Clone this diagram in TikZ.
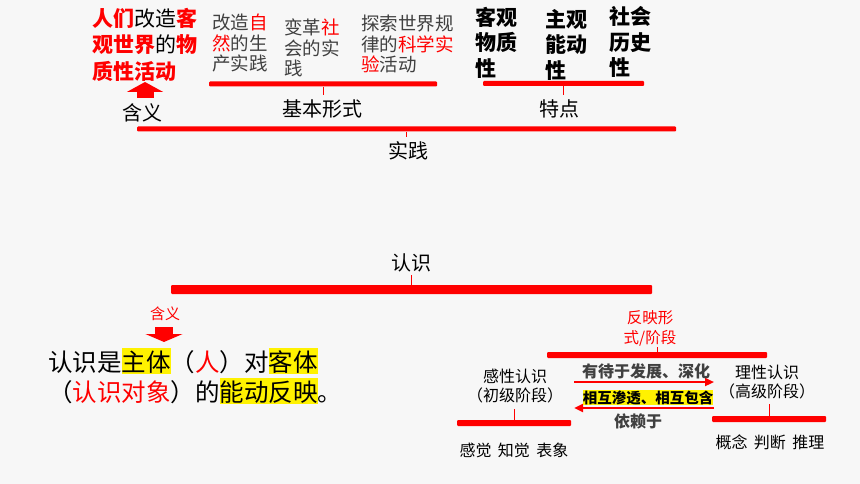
\documentclass[tikz,border=0pt]{standalone}
\usepackage{fontspec}
\setmainfont{Noto Sans CJK SC}
\usepackage{tikz}
\usetikzlibrary{arrows.meta}

\definecolor{bgcol}{RGB}{247,247,247}
\definecolor{txtgray}{RGB}{64,64,64}
\newcommand{\redb}[1]{\textcolor{red}{\bfseries #1}}
\newcommand{\yhl}[1]{{\setlength{\fboxsep}{0pt}\colorbox{yellow}{\rule[-0.12em]{0pt}{1.06em}#1}}}

\begin{document}
\begin{tikzpicture}[x=1pt, y=-1pt,
    bar/.style={fill=red, inner sep=0pt, rounded corners=1pt},
    tick/.style={red, line width=0.8pt},
    tag/.style={inner sep=5pt, font=\fontsize{20}{24}\selectfont},
    col/.style={anchor=west, align=left, inner sep=0pt, text=txtgray, font=\fontsize{18.5}{20.5}\selectfont},
    feat/.style={anchor=west, align=left, inner sep=0pt, font=\bfseries\fontsize{21}{25.5}\selectfont},
    stage/.style={align=center, inner sep=5pt, font=\fontsize{16}{19}\selectfont},
    arrowtxt/.style={inner sep=0pt, text=txtgray, font=\bfseries\fontsize{16}{19}\selectfont},
    flow/.style={red, line width=2.5pt, -{Triangle[length=9pt, width=8pt]}}]

            \fill[bgcol] (0,0) rectangle (860,484);
            \useasboundingbox (0,0) rectangle (860,484);

            % practice
            \node[anchor=west, align=left, inner sep=0pt, font=\fontsize{21}{26.5}\selectfont] (meaning) at (92,44.5) {\redb{人们}改造\redb{客}\\\redb{观世界}的\redb{物}\\\redb{质性活动}};
            \node[col] (nature) at (212,43.5) {改造\textcolor{red}{自}\\\textcolor{red}{然}的生\\产实践};
            \node[col] (society) at (284,48) {变革\textcolor{red}{社}\\会的实\\践};
            \node[col] (science) at (361,44) {探索世界规\\律的\textcolor{red}{科学实}\\\textcolor{red}{验}活动};
            \node[feat] (objective) at (475,42.5) {客观\\物质\\性};
            \node[feat] (subjective) at (545,44.5) {主观\\能动\\性};
            \node[feat] (historical) at (609,42) {社会\\历史\\性};

            \node[bar, minimum width=228, minimum height=5] (formbar) at (323,84) {};
            \node[bar, minimum width=161, minimum height=5] (featbar) at (563.5,83.5) {};
            \node[bar, minimum width=539, minimum height=5] (practbar) at (406.5,129) {};

            \node[tag] (hanyi) at (142,113) {含义};
            \node[tag] (forms) at (322,109) {基本形式};
            \node[tag] (traits) at (559,109) {特点};
            \node[tag] (practice) at (408,151) {实践};

            \draw[tick] (formbar.south) -- (formbar.south |- forms.north);
            \draw[tick] (featbar.south) -- (featbar.south |- traits.north);
            \draw[tick] (practbar.south) -- (practbar.south |- practice.north);

            \coordinate (upfoot) at (145,98);
            \coordinate (uptip) at (145,82);
            \draw[red, line width=17pt, -{Triangle[length=10pt, width=36pt]}] (upfoot) -- (uptip);

            % cognition
            \node[tag, inner sep=3pt] (cognition) at (411,263) {认识};
            \node[bar, minimum width=481, minimum height=9] (cogbar) at (411.5,289.5) {};
            \draw[tick] (cogbar.north) -- (cogbar.north |- cognition.south);

            \node[inner sep=2pt, text=red, font=\fontsize{15}{18}\selectfont] (hanyib) at (165,314) {含义};
            \coordinate (dnfoot) at (164,327);
            \coordinate (dntip) at (164,342);
            \draw[red, line width=18pt, -{Triangle[length=8pt, width=37pt]}] (dnfoot) -- (dntip);

            \node[anchor=west, align=left, inner sep=0pt, font=\fontsize{24.5}{30}\selectfont] (define) at (48,376) {认识是\yhl{主体}（\textcolor{red}{人}）对\yhl{客体}\\（\textcolor{red}{认识对象}）的\yhl{能动反映}。};

            \node[align=center, inner sep=1pt, text=red, font=\fontsize{15.5}{20}\selectfont] (reflect) at (650,328) {反映形\\式/阶段};
            \node[bar, minimum width=220, minimum height=6] (stagebar) at (657,355) {};
            \draw[tick] (stagebar.north) -- (stagebar.north |- reflect.south);

            \node[stage] (perceptual) at (515,386.5) {感性认识\\（初级阶段）};
            \node[stage] (rational) at (767,382) {理性认识\\（高级阶段）};
            \node[bar, minimum width=114, minimum height=6] (percbar) at (514,423) {};
            \node[bar, minimum width=114, minimum height=6] (ratbar) at (769,419) {};
            \draw[tick] (percbar.north) -- (percbar.north |- perceptual.south);
            \draw[tick] (ratbar.north) -- (ratbar.north |- rational.south);

            \node[font=\fontsize{16}{19}\selectfont] (sensations) at (514,450) {感觉\hspace{0.4em}知觉\hspace{0.4em}表象};
            \node[font=\fontsize{16}{19}\selectfont] (concepts) at (770,442) {概念\hspace{0.4em}判断\hspace{0.4em}推理};

            \coordinate (fwdstart) at (574,382);
            \coordinate (fwdend) at (714,382);
            \coordinate (backstart) at (714,408);
            \coordinate (backend) at (574,408);
            \draw[flow] (fwdstart) -- (fwdend);
            \draw[flow] (backstart) -- (backend);

            \node[arrowtxt] (develop) at (646,371) {有待于发展、深化};
            \node[fill=yellow, inner xsep=0pt, inner ysep=0.5pt, font=\bfseries\fontsize{14.5}{17}\selectfont] (mutual) at (648,397.5) {相互渗透、相互包含};
            \node[arrowtxt] (depend) at (638,421) {依赖于};

        \end{tikzpicture}
\end{document}
